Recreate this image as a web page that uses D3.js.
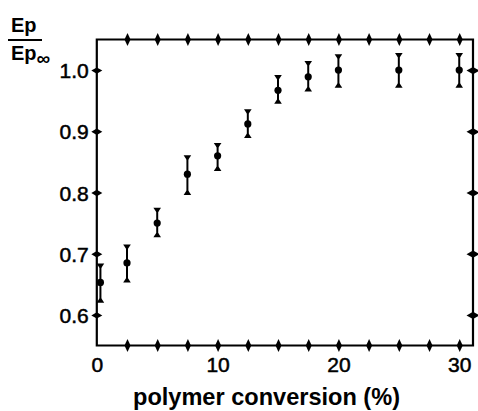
<!DOCTYPE html>
<html>
<head>
<meta charset="utf-8">
<script src="https://cdn.jsdelivr.net/npm/d3@7"></script>
<style>
  html, body { margin: 0; padding: 0; background: #fff; }
  svg { display: block; }
  text { font-family: "Liberation Sans", Arial, sans-serif; fill: #000; }
</style>
</head>
<body>
<svg id="chart" width="478" height="411"></svg>
<script>
// ---- data ----
const conversion = [0.3, 2.5, 5, 7.5, 10, 12.5, 15, 17.5, 20, 25, 30];
const ratio      = [0.653, 0.685, 0.750, 0.830, 0.860, 0.912, 0.967, 0.989, 1.000, 1.000, 1.000];
const errLow     = [0.622, 0.655, 0.729, 0.798, 0.837, 0.891, 0.947, 0.967, 0.973, 0.973, 0.973];
const errHigh    = [0.682, 0.713, 0.773, 0.859, 0.879, 0.934, 0.990, 1.013, 1.024, 1.026, 1.026];
const xTickValues = [2.5, 5, 7.5, 10, 12.5, 15, 17.5, 20, 22.5, 25, 27.5, 30];
const xTickLabels = [0, 10, 20, 30];
const yTickValues = [0.6, 0.7, 0.8, 0.9, 1.0];
const xLabel = "polymer conversion (%)";

const svg = d3.select("#chart");
const x = d3.scaleLinear().domain([0, 31.14]).range([96.8, 473]);
const y = d3.scaleLinear().domain([0.55, 1.05]).range([345.5, 39.5]);

const X0 = x.range()[0], X1 = x.range()[1], Y0 = y.range()[0], Y1 = y.range()[1];

// frame
svg.append("path")
  .attr("d", `M${X0},${Y1} L${X0},${Y0} L${X1},${Y0} L${X1},${Y1} Z`)
  .attr("fill", "none").attr("stroke", "#000").attr("stroke-width", 2.2)
  .attr("stroke-linejoin", "miter");

function spindleV(h, w) { return `M0,${-h} L${w},0 L0,${h} L${-w},0 Z`; }
function spindleH(w, h) { return `M${-w},0 L0,${h} L${w},0 L0,${-h} Z`; }

// bottom axis (spindle ticks)
const gb = svg.append("g").attr("transform", `translate(0,${Y0})`)
  .call(d3.axisBottom(x).tickValues(xTickValues).tickSize(0).tickFormat(""));
gb.select(".domain").remove();
gb.selectAll(".tick").append("path").attr("d", spindleV(6.5, 3)).attr("fill", "#000");

// bottom labels
const gbl = svg.append("g").attr("transform", `translate(0,${Y0})`)
  .call(d3.axisBottom(x).tickValues(xTickLabels).tickSize(0).tickFormat(d3.format("d")));
gbl.select(".domain").remove();
gbl.selectAll(".tick text").attr("y", 26).attr("dy", 0)
  .attr("stroke", "#000").attr("stroke-width", 0.5)
  .style("font-size", "21px").style("font-family", "'Liberation Sans', Arial, sans-serif");

// top axis
const gt = svg.append("g").attr("transform", `translate(0,${Y1})`)
  .call(d3.axisTop(x).tickValues(xTickValues).tickSize(0).tickFormat(""));
gt.select(".domain").remove();
gt.selectAll(".tick").append("path").attr("d", spindleV(6.5, 3)).attr("fill", "#000");

// left axis
const gl = svg.append("g").attr("transform", `translate(${X0},0)`)
  .call(d3.axisLeft(y).tickValues(yTickValues).tickSize(0).tickFormat(d3.format(".1f")));
gl.select(".domain").remove();
gl.selectAll(".tick").append("path").attr("d", spindleH(5.5, 3.2)).attr("fill", "#000");
gl.selectAll(".tick text").attr("x", -8).attr("dy", "0.36em")
  .attr("stroke", "#000").attr("stroke-width", 0.5)
  .style("font-size", "21px").style("font-family", "'Liberation Sans', Arial, sans-serif");

// right axis
const gr = svg.append("g").attr("transform", `translate(${X1},0)`)
  .call(d3.axisRight(y).tickValues(yTickValues).tickSize(0).tickFormat(""));
gr.select(".domain").remove();
gr.selectAll(".tick").append("path").attr("d", spindleH(6.5, 3.6)).attr("fill", "#000");

// error bars
const pts = conversion.map((c, i) => ({c, v: ratio[i], lo: errLow[i], hi: errHigh[i]}));
const eb = svg.append("g");
eb.selectAll("line.bar").data(pts).join("line")
  .attr("x1", d => x(d.c)).attr("x2", d => x(d.c))
  .attr("y1", d => y(d.hi)).attr("y2", d => y(d.lo))
  .attr("stroke", "#000").attr("stroke-width", 2);
// caps (flared)
eb.selectAll("path.capT").data(pts).join("path")
  .attr("d", d => `M${x(d.c)-3.8},${y(d.hi)-1.2} L${x(d.c)+3.8},${y(d.hi)-1.2} L${x(d.c)+1},${y(d.hi)+3} L${x(d.c)-1},${y(d.hi)+3} Z`)
  .attr("fill", "#000");
eb.selectAll("path.capB").data(pts).join("path")
  .attr("d", d => `M${x(d.c)-3.8},${y(d.lo)+1.2} L${x(d.c)+3.8},${y(d.lo)+1.2} L${x(d.c)+1},${y(d.lo)-3} L${x(d.c)-1},${y(d.lo)-3} Z`)
  .attr("fill", "#000");
// points
svg.append("g").selectAll("circle").data(pts).join("circle")
  .attr("cx", d => x(d.c)).attr("cy", d => y(d.v)).attr("r", 3.6).attr("fill", "#000");

// x label
svg.append("text").attr("x", 266.5).attr("y", 405).attr("text-anchor", "middle")
  .attr("textLength", 267).attr("lengthAdjust", "spacingAndGlyphs")
  .style("font-size", "24px").style("font-weight", "bold").text(xLabel);

// y label as fraction Ep / Ep∞
const yl = svg.append("g");
yl.append("text").attr("x", 11).attr("y", 32).style("font-size", "20px").style("font-weight", "bold").text("Ep");
yl.append("line").attr("x1", 8).attr("x2", 42).attr("y1", 40).attr("y2", 40).attr("stroke", "#000").attr("stroke-width", 2.2);
const den = yl.append("text").attr("x", 11).attr("y", 60).style("font-size", "20px").style("font-weight", "bold");
den.append("tspan").text("Ep");
den.append("tspan").attr("dy", 5).style("font-size", "19px").text("∞");
</script>
</body>
</html>
